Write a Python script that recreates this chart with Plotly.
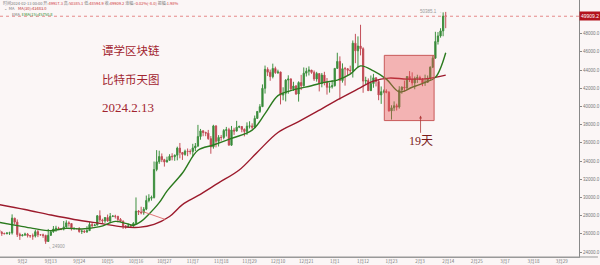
import pandas as pd
import plotly.graph_objects as go

# ---------------- data ----------------
dates = pd.date_range("2023-08-24", "2024-02-13", freq="D")

opens = [26432, 26163, 26047, 26005, 26089, 26106, 27727, 27297, 25931, 25800, 25868, 25969, 25812, 25780, 25753,
         26241, 25905, 25895, 25832, 25162, 25840, 26223, 26529, 26608, 26568, 26527, 26762, 27211, 27132, 26567,
         26580, 26579, 26256, 26299, 26217, 26352, 27021, 26906, 26962, 27983, 27530, 27429, 27794, 27410, 27931,
         27956, 27917, 27590, 27391, 26875, 26759, 26862, 26852, 27154, 28500, 28395, 28320, 28713, 29669, 29909,
         29992, 33069, 33922, 34497, 34151, 33892, 34081, 34525, 34474, 34639, 35421, 34941, 34732, 35082, 35049,
         35037, 35443, 35655, 36694, 37313, 37138, 37065, 36462, 35552, 37858, 36164, 36596, 36586, 37359, 37449,
         35745, 37415, 37290, 37721, 37796, 37479, 37254, 37832, 37854, 37723, 38682, 39450, 39973, 41991, 44073,
         43762, 43273, 44170, 43713, 43789, 41243, 41450, 42890, 43023, 41929, 42240, 41364, 42623, 42270, 43652,
         43869, 43997, 43740, 43016, 43613, 42520, 43442, 42627, 42099, 42156, 42283, 44180, 44946, 42845, 44151,
         44145, 43968, 43929, 46951, 46110, 46633, 46345, 42782, 42847, 41733, 42511, 43143, 42742, 41262, 41618,
         41665, 41545, 39507, 39845, 40077, 39933, 41816, 42120, 42035, 43288, 42952, 42582, 43075, 43185, 42992,
         42583, 42658, 43084, 44318, 45301, 47132, 47751, 48299, 49917.3]
highs = [26575, 26315, 26125, 26180, 26233, 28142, 27760, 27588, 26125, 25971, 26127, 26100, 25858, 26034, 26444,
         26430, 25945, 26020, 25900, 26540, 26400, 26860, 26888, 26777, 26627, 27409, 27488, 27380, 27157, 26743,
         26637, 26738, 26432, 26397, 26837, 27308, 27244, 27094, 28065, 28580, 27664, 27830, 28120, 28295, 28029,
         28095, 27987, 27735, 27480, 26946, 27130, 26989, 27289, 30000, 28613, 28982, 28940, 30208, 30355, 30200,
         33950, 35198, 35133, 34833, 34244, 34478, 34750, 34856, 34720, 35579, 35984, 34942, 35255, 35380, 35286,
         35892, 35979, 37972, 37526, 37408, 37222, 37420, 36744, 37980, 37929, 36845, 36865, 37510, 37750, 37649,
         37856, 37653, 38415, 37893, 37820, 37583, 38250, 38368, 38145, 38999, 39476, 40250, 42420, 44488, 44297,
         44047, 44700, 44370, 44039, 43804, 42104, 43000, 43420, 43087, 42709, 42359, 42757, 43467, 44283, 44242,
         44398, 44000, 43946, 43800, 43613, 43677, 43804, 43125, 42612, 42899, 44184, 45899, 45500, 44729, 44340,
         44187, 44480, 47248, 47972, 47695, 48970, 46498, 43257, 43079, 43400, 43578, 43198, 42930, 42195, 41865,
         41877, 41689, 40129, 40555, 40300, 42225, 42200, 42842, 43305, 43882, 43745, 43285, 43485, 43381, 43119,
         43494, 43399, 44396, 45614, 48200, 48170, 48592, 50334, 50385.1]
lows = [25864, 25777, 25985, 25966, 25880, 25922, 27025, 25655, 25333, 25717, 25770, 25600, 25566, 25350, 25600,
        25640, 25810, 25570, 24901, 25130, 25765, 26125, 26224, 26478, 26400, 26377, 26676, 26800, 26365, 26468,
        26519, 26122, 25990, 26088, 26112, 26338, 26665, 26886, 26954, 27280, 27160, 27215, 27336, 27175, 27842,
        27687, 27260, 27298, 26538, 26558, 26685, 26789, 26800, 27112, 28069, 28142, 28100, 28598, 29463, 29650,
        29880, 32878, 33690, 33883, 33390, 33850, 34044, 34077, 34025, 34078, 34300, 34120, 34585, 34534, 34730,
        34525, 35100, 35534, 36340, 36726, 36731, 36333, 34800, 35360, 35500, 35600, 36226, 36390, 36700, 35735,
        35670, 36870, 37251, 37617, 37162, 36709, 36870, 37578, 37500, 37615, 38650, 39274, 39972, 41414, 43335,
        42821, 43081, 43584, 43565, 40222, 40680, 40551, 41400, 41700, 41700, 41274, 40530, 41795, 42180, 43286,
        43400, 43590, 42800, 42720, 41650, 42100, 42318, 41300, 41520, 41965, 42180, 44176, 40750, 42613, 42284,
        43394, 43572, 43175, 44748, 44300, 45606, 41500, 42436, 41720, 41718, 42050, 42200, 40683, 40280, 41446,
        41446, 39431, 38555, 39484, 39550, 39760, 41394, 41620, 41804, 42683, 42276, 41884, 42584, 42880, 42222,
        42258, 42574, 42788, 44213, 45242, 46800, 47557, 47710, 48594.9]
closes = [26163, 26047, 26005, 26089, 26106, 27727, 27297, 25931, 25800, 25868, 25969, 25812, 25780, 25753, 26241,
          25905, 25895, 25832, 25162, 25840, 26223, 26529, 26608, 26568, 26527, 26762, 27211, 27132, 26567, 26580,
          26579, 26256, 26299, 26217, 26352, 27021, 26906, 26962, 27983, 27530, 27429, 27794, 27410, 27931, 27956,
          27917, 27590, 27391, 26875, 26759, 26862, 26852, 27154, 28500, 28395, 28320, 28713, 29669, 29909, 29992,
          33069, 33922, 34497, 34151, 33892, 34081, 34525, 34474, 34639, 35421, 34941, 34732, 35082, 35049, 35037,
          35443, 35655, 36694, 37313, 37138, 37065, 36462, 35552, 37858, 36164, 36596, 36586, 37359, 37449, 35745,
          37415, 37290, 37721, 37796, 37479, 37254, 37832, 37854, 37723, 38682, 39450, 39973, 41991, 44073, 43762,
          43273, 44170, 43713, 43789, 41243, 41450, 42890, 43023, 41929, 42240, 41364, 42623, 42270, 43652, 43869,
          43997, 43740, 43016, 43613, 42520, 43442, 42627, 42099, 42156, 42283, 44180, 44946, 42845, 44151, 44145,
          43968, 43929, 46951, 46110, 46633, 46345, 42782, 42847, 41733, 42511, 43143, 42742, 41262, 41618, 41665,
          41545, 39507, 39845, 40077, 39933, 41816, 42120, 42035, 43288, 42952, 42582, 43075, 43185, 42992, 42583,
          42658, 43084, 44318, 45301, 47132, 47751, 48299, 49917, 49909.2]

# moving-average lines
ma_dates = ["2023-08-24", "2023-09-03", "2023-09-13", "2023-09-22", "2023-10-02", "2023-10-11", "2023-10-17",
            "2023-10-23", "2023-10-29", "2023-11-03", "2023-11-09", "2023-11-17", "2023-11-25", "2023-12-02",
            "2023-12-10", "2023-12-18", "2023-12-25", "2024-01-02", "2024-01-10", "2024-01-16", "2024-01-22",
            "2024-01-29", "2024-02-06", "2024-02-13"]
ma_values = [29213, 28670, 28073, 27584, 27149, 26769, 26715, 27041, 27910, 29213, 30190, 31602, 33014, 34969,
             37141, 38335, 39421, 40724, 41919, 42788, 43114, 43005, 43060, 43439]

ema_dates = ["2023-08-24", "2023-08-31", "2023-09-06", "2023-09-13", "2023-09-19", "2023-09-25", "2023-10-02",
             "2023-10-08", "2023-10-12", "2023-10-15", "2023-10-18", "2023-10-21", "2023-10-25", "2023-10-28",
             "2023-11-03", "2023-11-09", "2023-11-15", "2023-11-22", "2023-11-30", "2023-12-05", "2023-12-10",
             "2023-12-15", "2023-12-23", "2023-12-28", "2024-01-02", "2024-01-07", "2024-01-11", "2024-01-16",
             "2024-01-21", "2024-01-26", "2024-01-31", "2024-02-05", "2024-02-09", "2024-02-13"]
ema_values = [27258, 26900, 26606, 26357, 26606, 26530, 26791, 27367, 27149, 26950, 27367, 28159, 29430, 30701,
              32688, 35186, 35761, 36489, 37390, 39204, 41191, 41734, 42277, 42647, 42896, 43548, 44449, 43906,
              43005, 41593, 42104, 42647, 43190, 45905]

tick_dates = ["2023-09-02", "2023-09-13", "2023-09-24", "2023-10-05", "2023-10-16", "2023-10-27", "2023-11-07",
              "2023-11-18", "2023-11-29", "2023-12-10", "2023-12-21", "2024-01-01", "2024-01-12", "2024-01-23",
              "2024-02-03", "2024-02-14", "2024-02-25", "2024-03-07", "2024-03-18", "2024-03-29"]
tick_labels = ["9月2", "9月13", "9月24", "10月5", "10月16", "10月27", "11月7", "11月18", "11月29", "12月10",
               "12月21", "1月1", "1月12", "1月23", "2月3", "2月14", "2月25", "3月7", "3月18", "3月29"]
y_ticks = list(range(24000, 50000, 2000))

last_price = 49909.2
high_price = 50385.1
low_price = 24900
box_range = ["2024-01-20 05:00", "2024-02-08 12:00"]
box_prices = [38444, 45612]

# ---------------- figure ----------------
BG = "#fbf6f6"
W, H = 600, 265
PW, PH = 581, 260

fig = go.Figure()
fig.add_trace(go.Candlestick(
    x=dates, open=opens, high=highs, low=lows, close=closes,
    increasing=dict(line=dict(color="#3f9140", width=1), fillcolor="#2a7d2c"),
    decreasing=dict(line=dict(color="#c4505a", width=1), fillcolor="#a51f2c"),
    whiskerwidth=0, showlegend=False, hoverinfo="skip"))
fig.add_trace(go.Scatter(x=ma_dates, y=ma_values, mode="lines", line=dict(color="#9c1a2c", width=1.4, shape="spline"),
                         showlegend=False, hoverinfo="skip"))
fig.add_trace(go.Scatter(x=ema_dates, y=ema_values, mode="lines", line=dict(color="#2b7a1e", width=1.4, shape="spline"),
                         showlegend=False, hoverinfo="skip"))


def px(x):
    return x / PW


def py(y):
    return 1 - y / PH


ann = []
# header lines
hdr_font = dict(family="Noto Sans CJK SC, Arial", size=4, color="#777")
ann.append(dict(x=px(1), y=py(3), xref="paper", yref="paper", xanchor="left", yanchor="middle", showarrow=False,
                text="时间2024-02-13 00:00 开:<span style='color:#d04040'>49917.3</span> 高:<span style='color:#d04040'>50385.1</span> "
                     "低:<span style='color:#d04040'>48594.9</span> 收:<span style='color:#d04040'>49909.2</span> "
                     "涨幅:<span style='color:#d04040'>-0.02%(-8.0)</span> 振幅:<span style='color:#d04040'>1.98%</span>",
                font=hdr_font))
ann.append(dict(x=px(2), y=py(8), xref="paper", yref="paper", xanchor="left", yanchor="middle", showarrow=False,
                text="⌄  MA    <span style='color:#c03030'>MA(30):43483.0</span>", font=hdr_font))
ann.append(dict(x=px(10), y=py(14), xref="paper", yref="paper", xanchor="left", yanchor="middle", showarrow=False,
                text="EMA  <span style='color:#2b8a2b'>EMA(15):45750.8</span>", font=hdr_font))

# big titles
title_font = dict(family="Liberation Serif, Noto Sans CJK SC", size=11.5, color="#a2242f")
for txt, yy in [("谭学区块链", 51.5), ("比特币天图", 80.5)]:
    ann.append(dict(x=px(100), y=py(yy), xref="paper", yref="paper", xanchor="left", yanchor="middle",
                    showarrow=False, text=txt, font=title_font))
ann.append(dict(x=px(100), y=py(108.5), xref="paper", yref="paper", xanchor="left", yanchor="middle",
                showarrow=False, text="2024.2.13", font=dict(family="Liberation Serif", size=13, color="#a2242f")))

# 19天 arrow
ann.append(dict(x="2024-02-03 06:00", y=38990, ax="2024-02-03 06:00", ay=36163, xref="x", yref="y",
                axref="x", ayref="y", text="19天", showarrow=True, arrowhead=2, arrowsize=0.7, arrowwidth=0.8,
                arrowcolor="#b03a3a", standoff=0,
                font=dict(family="Liberation Serif, Noto Sans CJK SC", size=12, color="#7a1a1a")))

# high / low labels
ann.append(dict(x="2024-02-12 06:00", y=high_price, xref="x", yref="y", xanchor="right", yanchor="middle",
                showarrow=False, text="50385.1 →", font=dict(family="Arial", size=4.5, color="#999")))
ann.append(dict(x="2023-09-11 12:00", y=low_price - 250, xref="x", yref="y", xanchor="left", yanchor="middle",
                showarrow=False, text="⌞ 24900", font=dict(family="Arial", size=4.5, color="#999")))

# current price tag
ann.append(dict(x=1.0, y=last_price, xref="paper", yref="y", xanchor="left", yanchor="middle", showarrow=False,
                text="49909.2", bgcolor="#b3141e", borderpad=1,
                font=dict(family="Arial", size=5, color="white")))

shapes = [
    dict(type="line", xref="paper", yref="y", x0=0, x1=1, y0=last_price, y1=last_price,
         line=dict(color="#e58a8a", width=1, dash="dot")),
    dict(type="rect", xref="x", yref="y", x0=box_range[0], x1=box_range[1], y0=box_prices[0], y1=box_prices[1],
         line=dict(color="#c85a5a", width=1), fillcolor="rgba(232,80,80,0.40)", layer="above"),
    dict(type="line", xref="x", yref="y", x0="2023-10-18 14:00", y0=28450, x1="2023-10-27 10:00", y1=27580,
         line=dict(color="#e07878", width=1)),
    dict(type="line", xref="paper", yref="paper", x0=0, x1=W / PW, y0=0, y1=0,
         line=dict(color="#999", width=1)),
]

fig.update_layout(
    width=W, height=H,
    margin=dict(l=0, r=W - PW, t=0, b=H - PH),
    paper_bgcolor=BG, plot_bgcolor=BG,
    annotations=ann, shapes=shapes,
    xaxis=dict(type="date", range=["2023-08-24 07:30", "2024-04-04 15:20"], rangeslider=dict(visible=False),
               tickvals=tick_dates, ticktext=tick_labels, showgrid=False, zeroline=False,
               showline=True, linecolor="#999", linewidth=1, ticks="", 
               tickfont=dict(family="Noto Sans CJK SC, Arial", size=4.5, color="#777")),
    yaxis=dict(range=[23457, 51693], side="right", tickvals=y_ticks, tickformat=".1f", showgrid=False,
               zeroline=False, showline=True, linecolor="#888", linewidth=1, ticks="outside", ticklen=2,
               tickcolor="#888", tickfont=dict(family="Arial", size=4.5, color="#777")),
    hovermode=False,
)

fig.write_html("out.html")
